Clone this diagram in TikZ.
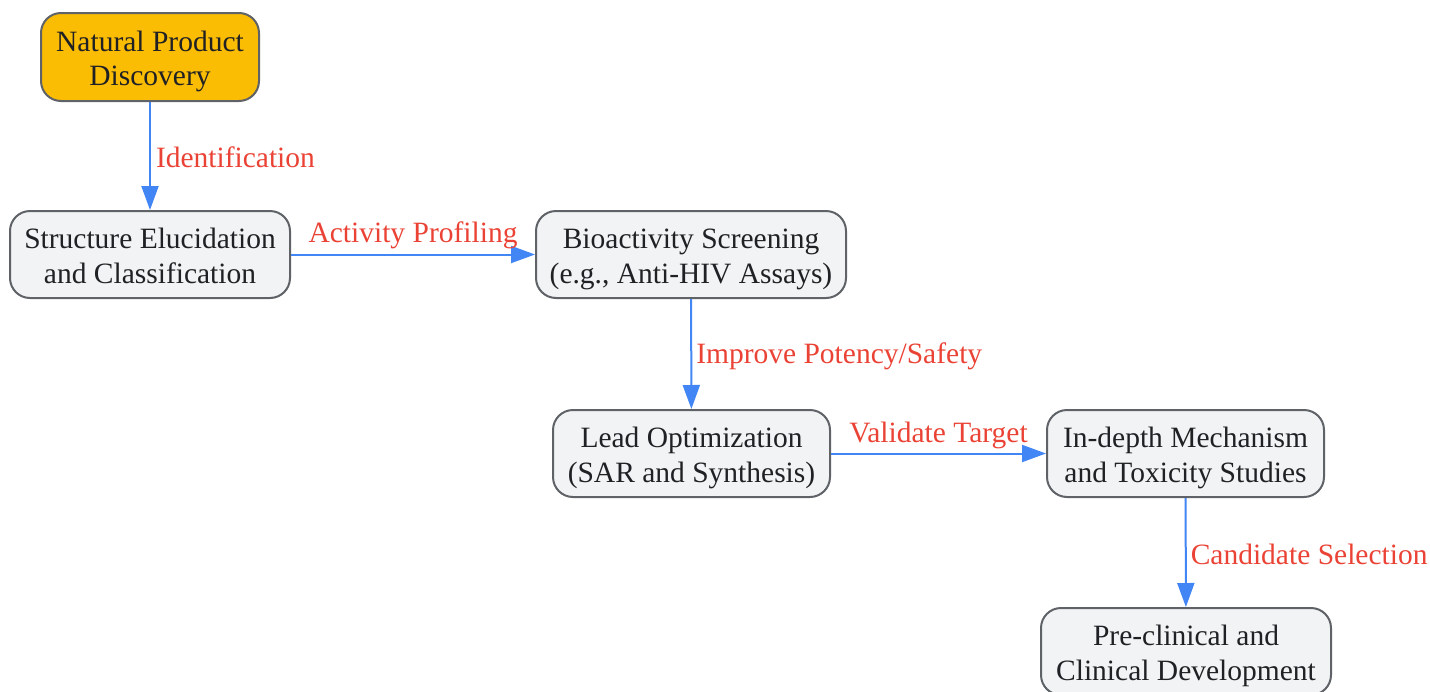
\documentclass[tikz,border=0pt]{standalone}
\usepackage{fontspec}
\setmainfont{Liberation Serif}
\usetikzlibrary{arrows.meta}
\definecolor{boxfill}{HTML}{F1F3F4}
\definecolor{boxline}{HTML}{5F6368}
\definecolor{startfill}{HTML}{FBBC04}
\definecolor{txt}{HTML}{202124}
\definecolor{arrowblue}{HTML}{4285F4}
\definecolor{labred}{HTML}{EA4335}
\newcommand\boxtxt[2]{\raisebox{-4.5pt}[\height][\depth]{\begin{tabular}{@{}c@{}}#1\\#2\end{tabular}}}
\tikzset{
  stepbox/.style={draw=boxline, line width=2pt, fill=boxfill, rounded corners=20pt,
    minimum height=87pt, align=center, text=txt, inner sep=0pt,
    font=\fontsize{29.5}{34.5}\selectfont},
  startbox/.style={stepbox, fill=startfill},
  flow/.style={draw=arrowblue, line width=2pt, -{Triangle[length=24pt,width=17pt]}},
  lab/.style={text=labred, font=\fontsize{29.5}{34.5}\selectfont, inner sep=0pt}
}
\begin{document}
\begin{tikzpicture}[x=1pt,y=-1pt]
\useasboundingbox (0,0) rectangle (1430,691);
\node[startbox, minimum width=218pt, minimum height=88pt] (n1) at (150,57) {\boxtxt{Natural Product}{Discovery}};
\node[stepbox, minimum width=280pt] (n2) at (150,254.5) {\boxtxt{Structure Elucidation}{and Classification}};
\node[stepbox, minimum width=310pt] (n3) at (691,254.5) {\boxtxt{Bioactivity Screening}{(e.g., Anti-HIV Assays)}};
\node[stepbox, minimum width=277pt] (n4) at (691.5,453.5) {\boxtxt{Lead Optimization}{(SAR and Synthesis)}};
\node[stepbox, minimum width=277pt] (n5) at (1185.5,453.5) {\boxtxt{In-depth Mechanism}{and Toxicity Studies}};
\node[stepbox, minimum width=290pt] (n6) at (1186,651.5) {\boxtxt{Pre-clinical and}{Clinical Development}};

\draw[flow] (n1) -- (n2) node[lab, pos=0.5, right=5pt, yshift=-1pt] {Identification};
\draw[flow] (n2) -- (n3) node[lab, pos=0.5, above=5pt] {Activity Profiling};
\draw[flow] (n3) -- (n4) node[lab, pos=0.5, right=4pt, yshift=-2pt] {Improve Potency/Safety};
\draw[flow] (n4) -- (n5) node[lab, pos=0.5, above=4pt] {Validate Target};
\draw[flow] (n5) -- (n6) node[lab, pos=0.5, right=4pt, yshift=-2pt] {Candidate Selection};
\end{tikzpicture}
\end{document}
